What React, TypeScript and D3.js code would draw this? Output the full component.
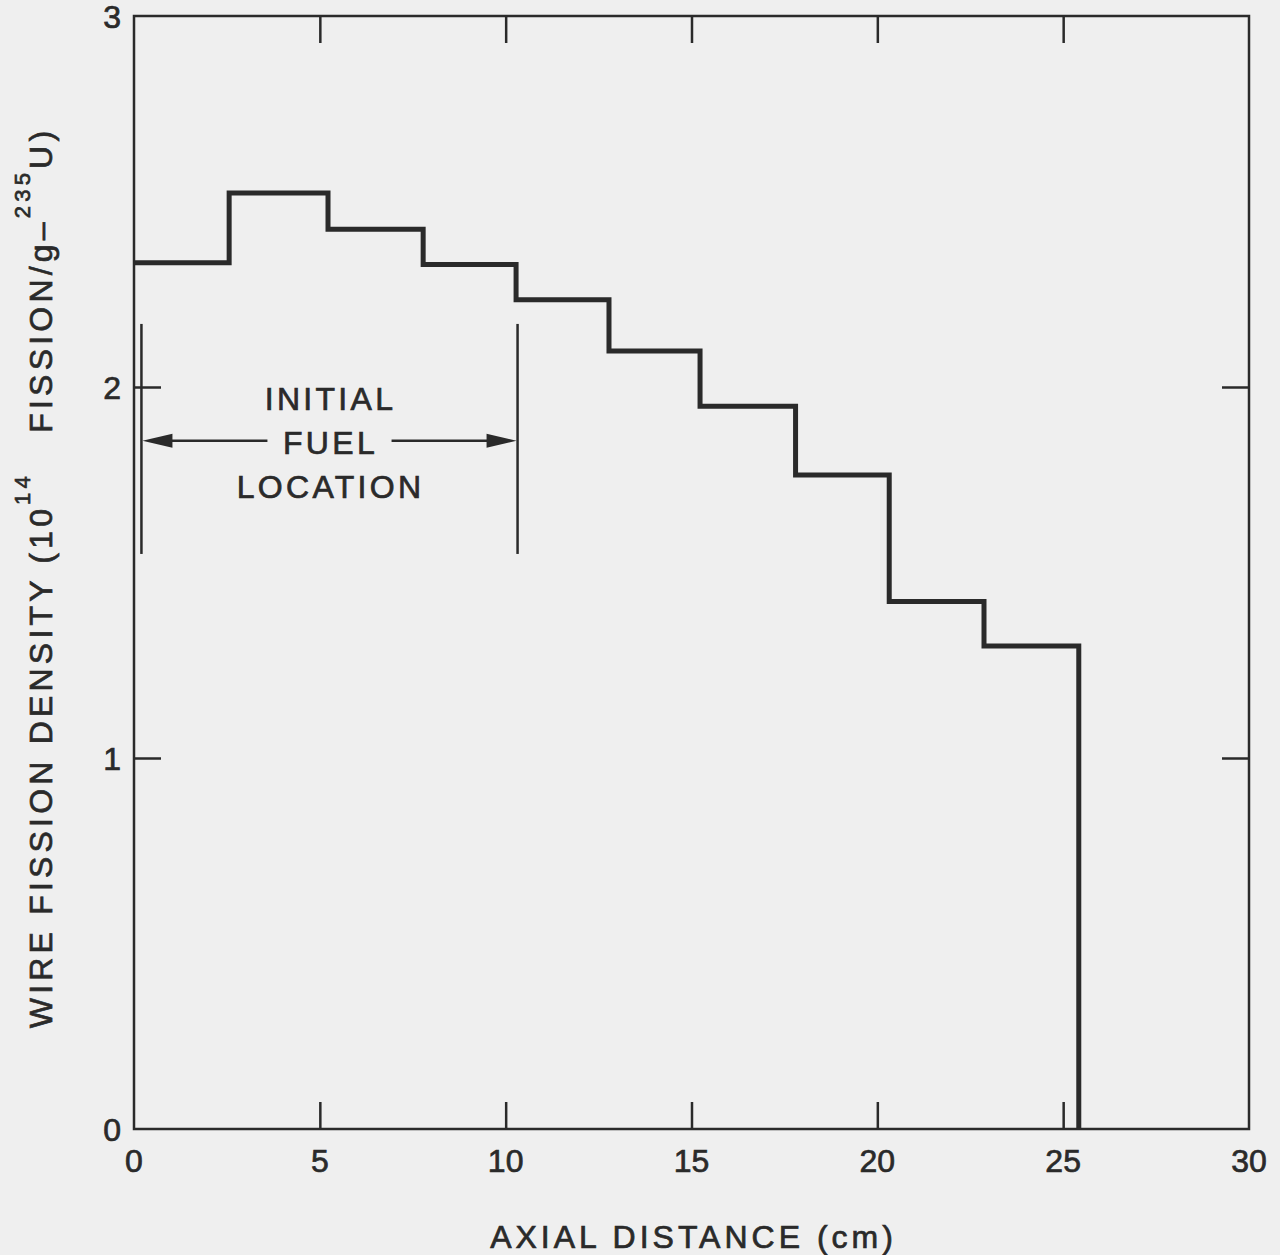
import React, { useEffect, useRef } from 'react'
import * as d3 from 'd3'

// step edges (cm) and wire fission density per step
const stepEdges = [0, 2.56, 5.22, 7.78, 10.28, 12.78, 15.23, 17.8, 20.32, 22.87, 25.42]
const stepValues = [2.335, 2.523, 2.425, 2.33, 2.235, 2.097, 1.948, 1.763, 1.422, 1.302]

const xTicks = [0, 5, 10, 15, 20, 25, 30]
const yTicks = [0, 1, 2, 3]

// initial fuel location bracket (cm)
const fuelStart = 0.2
const fuelEnd = 10.32
const fuelLabel = ['INITIAL', 'FUEL', 'LOCATION']

const App = () => {
	const ref = useRef<SVGSVGElement>(null)

	const width = 1280
	const height = 1255
	const marginLeft = 134
	const marginRight = 31
	const marginTop = 16
	const marginBottom = 126
	const tickLen = 27
	const ink = '#2a2a2a'
	const font = '"Liberation Sans", Arial, Helvetica, sans-serif'

	useEffect(() => {
		document.body.style.margin = '0'
		if (!ref.current) return
		const svg = d3.select(ref.current)
		svg.selectAll('*').remove()

		const x = d3.scaleLinear().domain([0, 30]).range([marginLeft, width - marginRight])
		const y = d3.scaleLinear().domain([0, 3]).range([height - marginBottom, marginTop])

		svg.append('rect').attr('width', width).attr('height', height).attr('fill', '#efefef')

		// slightly heavier type, like the printed original
		const txt = sel =>
			sel
				.attr('fill', ink)
				.attr('stroke', ink)
				.attr('stroke-width', 0.7)
				.attr('font-family', font)

		// frame
		svg
			.append('rect')
			.attr('x', x(0))
			.attr('y', y(3))
			.attr('width', x(30) - x(0))
			.attr('height', y(0) - y(3))
			.attr('fill', 'none')
			.attr('stroke', ink)
			.attr('stroke-width', 2.5)

		// axes: ticks pointing inward on all four sides
		const inner = xTicks.filter(t => t > 0 && t < 30)
		const axisStyle = g => {
			g.select('.domain').remove()
			g.selectAll('.tick line').attr('stroke', ink).attr('stroke-width', 2.5)
		}

		svg
			.append('g')
			.attr('transform', `translate(0,${y(0)})`)
			.call(d3.axisBottom(x).tickValues(inner).tickSizeInner(-tickLen).tickFormat(() => ''))
			.call(axisStyle)
		svg
			.append('g')
			.attr('transform', `translate(0,${y(3)})`)
			.call(d3.axisTop(x).tickValues(inner).tickSizeInner(-tickLen).tickFormat(() => ''))
			.call(axisStyle)
		svg
			.append('g')
			.attr('transform', `translate(${x(0)},0)`)
			.call(d3.axisLeft(y).tickValues([1, 2]).tickSizeInner(-tickLen).tickFormat(() => ''))
			.call(axisStyle)
		svg
			.append('g')
			.attr('transform', `translate(${x(30)},0)`)
			.call(d3.axisRight(y).tickValues([1, 2]).tickSizeInner(-tickLen).tickFormat(() => ''))
			.call(axisStyle)

		// tick labels
		svg
			.append('g')
			.selectAll('text')
			.data(xTicks)
			.join('text')
			.attr('x', d => x(d))
			.attr('y', y(0) + 43)
			.attr('text-anchor', 'middle')
			.attr('font-size', 32)
			.call(txt)
			.text(d => d)

		svg
			.append('g')
			.selectAll('text')
			.data(yTicks)
			.join('text')
			.attr('x', x(0) - 13)
			.attr('y', d => y(d) + 12)
			.attr('text-anchor', 'end')
			.attr('font-size', 32)
			.call(txt)
			.text(d => d)

		// step curve
		const pts: [number, number][] = []
		stepValues.forEach((v, i) => {
			pts.push([stepEdges[i], v])
			pts.push([stepEdges[i + 1], v])
		})
		pts.push([stepEdges[stepEdges.length - 1], 0])
		const line = d3
			.line<[number, number]>()
			.x(d => x(d[0]))
			.y(d => y(d[1]))
		svg
			.append('path')
			.datum(pts)
			.attr('d', line)
			.attr('fill', 'none')
			.attr('stroke', ink)
			.attr('stroke-width', 5)
			.attr('stroke-linejoin', 'miter')

		// initial fuel location bracket
		const ann = svg.append('g').attr('stroke', ink).attr('stroke-width', 2.5)
		const barTop = y(2.17)
		const barBot = y(1.55)
		const arrowY = y(1.855)
		ann.append('line').attr('x1', x(fuelStart)).attr('x2', x(fuelStart)).attr('y1', barTop).attr('y2', barBot)
		ann.append('line').attr('x1', x(fuelEnd)).attr('x2', x(fuelEnd)).attr('y1', barTop).attr('y2', barBot)
		ann.append('line').attr('x1', x(fuelStart) + 10).attr('x2', x(fuelStart) + 126).attr('y1', arrowY).attr('y2', arrowY)
		ann.append('line').attr('x1', x(fuelEnd) - 126).attr('x2', x(fuelEnd) - 10).attr('y1', arrowY).attr('y2', arrowY)
		const head = (tipX, dir) =>
			`M${tipX},${arrowY}L${tipX + dir * 30},${arrowY - 7}L${tipX + dir * 30},${arrowY + 7}Z`
		svg.append('path').attr('d', head(x(fuelStart) + 1, 1)).attr('fill', ink)
		svg.append('path').attr('d', head(x(fuelEnd) - 1, -1)).attr('fill', ink)

		const labelX = (x(fuelStart) + x(fuelEnd)) / 2 + 1
		svg
			.append('g')
			.selectAll('text')
			.data(fuelLabel)
			.join('text')
			.attr('x', labelX)
			.attr('y', (d, i) => 410 + i * 44)
			.attr('text-anchor', 'middle')
			.attr('font-size', 32)
			.attr('letter-spacing', 3.3)
			.call(txt)
			.text(d => d)

		// axis titles
		svg
			.append('text')
			.attr('x', (x(0) + x(30)) / 2 + 2)
			.attr('y', 1248)
			.attr('text-anchor', 'middle')
			.attr('font-size', 32)
			.attr('letter-spacing', 4)
			.call(txt)
			.text('AXIAL DISTANCE (cm)')

		const yt = svg
			.append('text')
			.attr('transform', `translate(52,${(y(0) + y(3)) / 2 + 5}) rotate(-90)`)
			.attr('text-anchor', 'middle')
			.attr('font-size', 32)
			.attr('letter-spacing', 4.2)
			.style('white-space', 'pre')
			.call(txt)
		yt.append('tspan').text('WIRE FISSION DENSITY (10')
		yt.append('tspan').attr('dy', -22).attr('font-size', 22).text('14')
		yt.append('tspan').attr('dy', 22).text('   FISSION/g–')
		yt.append('tspan').attr('dy', -22).attr('font-size', 22).text('235')
		yt.append('tspan').attr('dy', 22).text('U)')
	}, [])

	return <svg width={width} height={height} ref={ref} style={{ display: 'block' }}></svg>
}

export default App
